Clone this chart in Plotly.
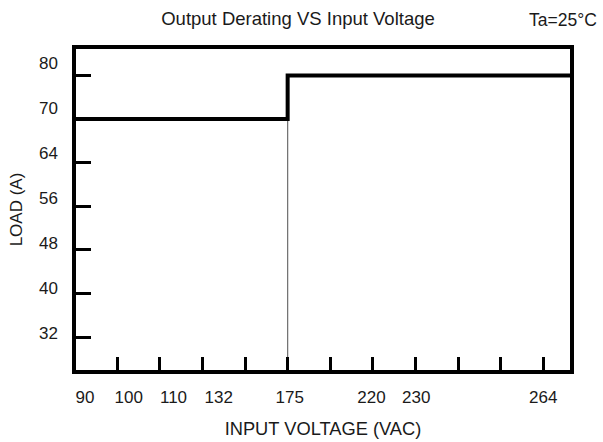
import plotly.graph_objects as go

# ---- data ----
VOLTAGE_LABELS = ["90", "100", "110", "132", "175", "220", "230", "264"]
LOAD_LABELS = ["32", "40", "48", "56", "64", "70", "80"]
STEP_VOLTAGE = "175"      # input voltage where derating ends
LOW_LOAD = "70"           # load below the step (A)
HIGH_LOAD = "80"          # load above the step (A)

# ---- axis layout (slot units of the drawn grid) ----
N_X_TICKS = 11
X_TICK_SLOTS = list(range(1, N_X_TICKS + 1))
X_LABEL_SLOTS = [0.24, 1.27, 2.32, 3.38, 5.05, 6.97, 8.02, 11.0]
X_RANGE = [0.03, 11.63]
STEP_SLOT = X_TICK_SLOTS[VOLTAGE_LABELS.index(STEP_VOLTAGE)]  # 175 sits on the 5th tick

Y_TICK_SLOTS = list(range(1, len(LOAD_LABELS) + 1))
Y_RANGE = [0.243, 7.609]
# labels are drawn on a slightly differently scaled overlay axis
Y_LABEL_RANGE = [0.178, 7.311]

load_slot = {lab: i + 1 for i, lab in enumerate(LOAD_LABELS)}

FONT = "Liberation Sans, Arial, sans-serif"
TXT = "#1a1a1a"

fig = go.Figure()

# thin vertical drop line at the step voltage
fig.add_trace(go.Scatter(
    x=[STEP_SLOT, STEP_SLOT], y=[Y_RANGE[0] - 1, load_slot[LOW_LOAD]],
    mode="lines", line=dict(color="#6e6e6e", width=1.2),
    hoverinfo="skip", showlegend=False))

# derating curve
fig.add_trace(go.Scatter(
    x=[X_RANGE[0] - 1, STEP_SLOT, STEP_SLOT, X_RANGE[1] + 1],
    y=[load_slot[LOW_LOAD], load_slot[LOW_LOAD], load_slot[HIGH_LOAD], load_slot[HIGH_LOAD]],
    mode="lines", line=dict(color="black", width=4),
    hoverinfo="skip", showlegend=False))

# invisible trace to carry the label axes
fig.add_trace(go.Scatter(x=[None], y=[None], xaxis="x2", yaxis="y2",
                         mode="markers", hoverinfo="skip", showlegend=False))

ML, MR, MT, MB = 76, 33, 49, 72

fig.update_layout(
    width=603, height=442,
    margin=dict(l=ML, r=MR, t=MT, b=MB, autoexpand=False),
    paper_bgcolor="white", plot_bgcolor="white",
    font=dict(family=FONT, color=TXT, size=17),
    title=dict(text="Output Derating VS Input Voltage", x=298 / 603, xanchor="center",
               xref="container", y=1 - 19 / 442, yref="container", yanchor="middle",
               font=dict(size=18.5, family=FONT, color=TXT)),
    xaxis=dict(range=X_RANGE, tickvals=X_TICK_SLOTS, ticks="inside", ticklen=13,
               tickwidth=3, tickcolor="black", showticklabels=False, automargin=False,
               showline=True, mirror=True, linewidth=3.5, linecolor="black",
               showgrid=False, zeroline=False, fixedrange=True),
    yaxis=dict(range=Y_RANGE, tickvals=Y_TICK_SLOTS, ticks="inside", ticklen=15,
               tickwidth=3, tickcolor="black", showticklabels=False, automargin=False,
               showline=True, mirror=True, linewidth=3.5, linecolor="black",
               showgrid=False, zeroline=False, fixedrange=True),
    xaxis2=dict(overlaying="x", anchor="y2", side="bottom", range=X_RANGE,
                tickvals=X_LABEL_SLOTS, ticktext=VOLTAGE_LABELS, ticks="",
                showline=False, showgrid=False, zeroline=False, automargin=False,
                ticklabelstandoff=15, tickfont=dict(size=17, family=FONT, color=TXT),
                title=dict(text="INPUT VOLTAGE (VAC)", standoff=16,
                           font=dict(size=18.3, family=FONT, color=TXT))),
    yaxis2=dict(overlaying="y", anchor="x2", side="left", range=Y_LABEL_RANGE,
                tickvals=Y_TICK_SLOTS, ticktext=LOAD_LABELS, ticks="",
                showline=False, showgrid=False, zeroline=False, automargin=False,
                ticklabelstandoff=17, tickfont=dict(size=17, family=FONT, color=TXT),
                title=dict(text="LOAD (A)", standoff=12,
                           font=dict(size=17, family=FONT, color=TXT))),
    annotations=[dict(text="Ta=25°C", xref="paper", yref="paper",
                      x=(563 - ML) / (603 - ML - MR), y=1 + (MT - 20) / (442 - MT - MB),
                      xanchor="center", yanchor="middle", showarrow=False,
                      font=dict(size=17.5, family=FONT, color=TXT))],
)

fig.write_html("out.html", config={"displayModeBar": False},
               post_script="document.body.style.margin='0';document.body.style.overflow='hidden';")
